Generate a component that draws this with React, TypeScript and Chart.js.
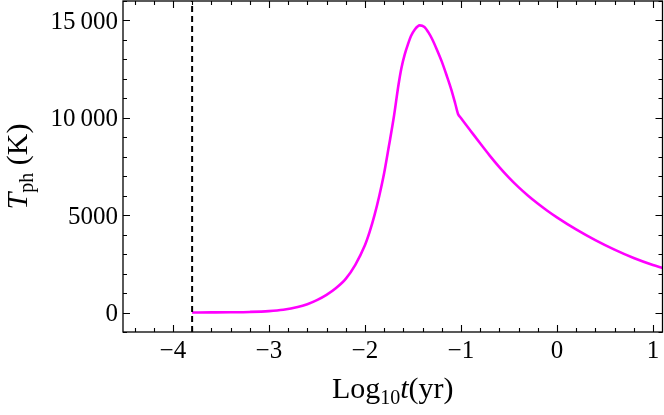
import React, { useEffect, useRef } from "react";
import { Chart, registerables } from "chart.js";

Chart.register(...registerables);

// Data
const logT: number[] = [
  -3.8, -3.6, -3.4, -3.2, -3.0, -2.85, -2.7, -2.6, -2.5, -2.4, -2.3, -2.2,
  -2.1, -2.0, -1.95, -1.9, -1.85, -1.8, -1.75, -1.7, -1.65, -1.62, -1.585,
  -1.55, -1.52, -1.48, -1.43, -1.38, -1.34, -1.3, -1.25, -1.2, -1.15, -1.1,
  -1.06, -1.03, -1.0, -0.9, -0.8, -0.7, -0.6, -0.5, -0.4, -0.3, -0.2, -0.1,
  0.0, 0.2, 0.4, 0.6, 0.8, 1.0, 1.1,
];
const tph: number[] = [
  3, 8, 15, 30, 70, 140, 280, 430, 640, 910, 1260, 1730, 2450, 3450, 4150,
  5000, 6000, 7150, 8550, 10000, 11700, 12550, 13260, 13800, 14200, 14540,
  14750, 14660, 14400, 14050, 13500, 12900, 12200, 11450, 10750, 10200, 9990,
  9340, 8690, 8060, 7470, 6930, 6440, 6000, 5600, 5230, 4890, 4270, 3720,
  3230, 2800, 2440, 2290,
];
const markerLogT = -3.8;

const xMin = -4.52;
const xMax = 1.1;
const yMin = -1000;
const yMax = 16000;

const xTicks: number[] = [-4, -3, -2, -1, 0, 1];
const xTickLabels: string[] = ["\u22124", "\u22123", "\u22122", "\u22121", "0", "1"];
const yTicks: number[] = [0, 5000, 10000, 15000];
const yTickLabels: string[] = ["0", "5000", "10\u2009000", "15\u2009000"];
const xMinorStep = 0.2;
const yMinorStep = 1000;

const SERIF = "'Liberation Serif', 'Times New Roman', serif";
const TICK_SIZE = 25;
const TITLE_SIZE = 30;
const SUB_SIZE = 20;

type Seg = { t: string; size: number; italic?: boolean; dy?: number };

function drawSegs(ctx: CanvasRenderingContext2D, segs: Seg[], cx: number, baseline: number) {
  let total = 0;
  for (const s of segs) {
    ctx.font = `${s.italic ? "italic " : ""}${s.size}px ${SERIF}`;
    total += ctx.measureText(s.t).width;
  }
  let x = cx - total / 2;
  for (const s of segs) {
    ctx.font = `${s.italic ? "italic " : ""}${s.size}px ${SERIF}`;
    ctx.fillText(s.t, x, baseline + (s.dy || 0));
    x += ctx.measureText(s.t).width;
  }
}

const framePlugin = {
  id: "mmaFrame",
  afterDatasetsDraw(chart: any) {
    const { ctx, chartArea } = chart;
    const xs = chart.scales.x;
    const ys = chart.scales.y;
    const { left, right, top, bottom } = chartArea;
    ctx.save();
    ctx.strokeStyle = "#000";
    ctx.lineWidth = 1.3;
    ctx.strokeRect(left, top, right - left, bottom - top);
    ctx.lineWidth = 1.1;
    const majLen = 7;
    const minLen = 4;
    const nx0 = Math.ceil(xMin / xMinorStep - 1e-9);
    const nx1 = Math.floor(xMax / xMinorStep + 1e-9);
    for (let i = nx0; i <= nx1; i++) {
      const v = i * xMinorStep;
      const isMaj = xTicks.some((t) => Math.abs(t - v) < 1e-6);
      const len = isMaj ? majLen : minLen;
      const px = Math.round(xs.getPixelForValue(v)) + 0.5;
      ctx.beginPath();
      ctx.moveTo(px, bottom);
      ctx.lineTo(px, bottom - len);
      ctx.moveTo(px, top);
      ctx.lineTo(px, top + len);
      ctx.stroke();
    }
    const ny0 = Math.ceil(yMin / yMinorStep - 1e-9);
    const ny1 = Math.floor(yMax / yMinorStep + 1e-9);
    for (let i = ny0; i <= ny1; i++) {
      const v = i * yMinorStep;
      const isMaj = yTicks.some((t) => Math.abs(t - v) < 1e-6);
      const len = isMaj ? majLen : minLen;
      const py = Math.round(ys.getPixelForValue(v)) + 0.5;
      ctx.beginPath();
      ctx.moveTo(left, py);
      ctx.lineTo(left + len, py);
      ctx.moveTo(right, py);
      ctx.lineTo(right - len, py);
      ctx.stroke();
    }
    ctx.restore();
  },
  afterDraw(chart: any) {
    const { ctx, chartArea } = chart;
    const xs = chart.scales.x;
    const ys = chart.scales.y;
    ctx.save();
    ctx.fillStyle = "#000";
    ctx.textBaseline = "alphabetic";
    ctx.font = `${TICK_SIZE}px ${SERIF}`;
    ctx.textAlign = "center";
    xTicks.forEach((v, i) => {
      ctx.fillText(xTickLabels[i], xs.getPixelForValue(v), 358);
    });
    ctx.textAlign = "right";
    yTicks.forEach((v, i) => {
      ctx.fillText(yTickLabels[i], chartArea.left - 5, ys.getPixelForValue(v) + 8.5);
    });
    ctx.textAlign = "left";
    const cx = (chartArea.left + chartArea.right) / 2;
    drawSegs(
      ctx,
      [
        { t: "Log", size: TITLE_SIZE },
        { t: "10", size: SUB_SIZE, dy: 6 },
        { t: "t", size: TITLE_SIZE, italic: true },
        { t: "(yr)", size: TITLE_SIZE },
      ],
      cx,
      398
    );
    const cy = (chartArea.top + chartArea.bottom) / 2;
    ctx.translate(27, cy);
    ctx.rotate(-Math.PI / 2);
    drawSegs(
      ctx,
      [
        { t: "T", size: TITLE_SIZE, italic: true },
        { t: "ph", size: SUB_SIZE, dy: 6 },
        { t: " (K)", size: TITLE_SIZE },
      ],
      0,
      0
    );
    ctx.restore();
  },
};

export default function App() {
  const ref = useRef<HTMLCanvasElement | null>(null);
  useEffect(() => {
    document.body.style.margin = "0";
    const canvas = ref.current;
    if (!canvas) return;
    const pts = logT.map((x, i) => ({ x, y: tph[i] }));
    const chart = new Chart(canvas, {
      type: "scatter",
      data: {
        datasets: [
          {
            data: [
              { x: markerLogT, y: yMin },
              { x: markerLogT, y: yMax },
            ],
            showLine: true,
            borderColor: "#000",
            borderWidth: 2,
            borderDash: [6, 4],
            pointRadius: 0,
            fill: false,
          },
          {
            data: pts,
            showLine: true,
            borderColor: "#ff00ff",
            borderWidth: 2.6,
            pointRadius: 0,
            cubicInterpolationMode: "monotone",
            fill: false,
          },
        ],
      },
      options: {
        responsive: false,
        animation: false,
        devicePixelRatio: 1,
        layout: { padding: { top: 1, right: 1.5, left: 0, bottom: 0 } },
        plugins: {
          legend: { display: false },
          tooltip: { enabled: false },
          title: { display: false },
        },
        scales: {
          x: {
            type: "linear",
            min: xMin,
            max: xMax,
            grid: { display: false, drawTicks: false },
            border: { display: false },
            ticks: { display: false },
            afterFit: (s: any) => {
              s.height = 83;
              s.paddingLeft = 0;
              s.paddingRight = 0;
            },
          },
          y: {
            type: "linear",
            min: yMin,
            max: yMax,
            grid: { display: false, drawTicks: false },
            border: { display: false },
            ticks: { display: false },
            afterFit: (s: any) => {
              s.width = 123;
              s.paddingTop = 0;
              s.paddingBottom = 0;
            },
          },
        },
      },
      plugins: [framePlugin],
    } as any);
    return () => chart.destroy();
  }, []);
  return (
    <div style={{ position: "absolute", left: 0, top: 0, width: 664, height: 415 }}>
      <canvas ref={ref} width={664} height={415} />
    </div>
  );
}
